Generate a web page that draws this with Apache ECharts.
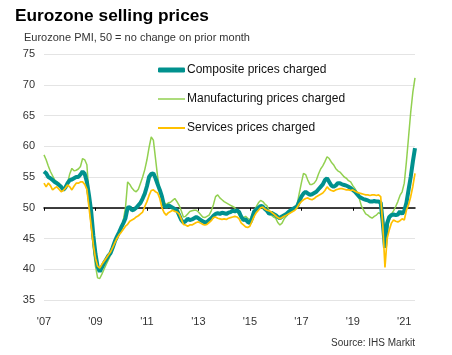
<!DOCTYPE html>
<html>
<head>
<meta charset="utf-8">
<script src="https://cdn.jsdelivr.net/npm/echarts@6/dist/echarts.min.js"></script>
<style>
html,body{margin:0;padding:0;background:#fff;}
#chart{width:452px;height:355px;}
</style>
</head>
<body>
<div id="chart"></div>
<script>
// Monthly, Jan 2007 – Jun 2021
var startYear = 2007;
var monthCount = 174;
var categories = [];
for (var i = 0; i < monthCount; i++) {
  var y = startYear + Math.floor(i / 12), m = (i % 12) + 1;
  categories.push(y + '-' + (m < 10 ? '0' + m : m));
}
var tickLabels = ["'07", "'09", "'11", "'13", "'15", "'17", "'19", "'21"];
var seriesNames = ['Composite prices charged', 'Manufacturing prices charged', 'Services prices charged'];

var composite = [
  55.9,55.6,55.0,54.8,54.5,54.2,54.0,53.7,53.4,52.9,53.3,54.0,
  54.5,54.6,54.8,55.0,55.0,55.4,55.9,55.5,54.2,52.0,49.4,45.5,
  42.5,40.4,39.6,40.3,41.0,41.6,42.2,42.6,43.5,44.5,45.3,46.0,
  46.8,47.5,48.3,50.0,50.1,49.6,49.7,50.0,50.4,50.8,51.5,52.3,
  53.5,55.0,55.5,55.6,54.8,53.8,52.9,51.8,50.3,50.1,50.4,50.2,
  50.0,49.8,49.6,48.8,48.0,47.6,47.8,48.2,48.0,48.1,48.3,48.5,
  48.3,48.0,47.8,47.6,47.7,48.0,48.3,48.7,49.0,49.1,49.0,49.2,
  49.1,49.0,49.2,49.3,49.5,49.4,49.6,49.3,48.5,48.0,48.1,47.7,
  47.5,48.3,49.4,49.7,50.0,50.3,50.2,49.8,49.5,49.0,49.2,49.0,
  48.8,48.5,48.3,48.6,48.8,49.0,49.3,49.6,49.8,50.0,50.2,51.0,
  51.8,52.3,52.6,52.3,52.1,52.2,52.4,52.6,53.0,53.4,53.8,54.5,
  54.8,54.2,53.6,53.4,53.6,54.0,54.0,53.8,53.7,53.6,53.4,53.2,
  52.9,52.6,52.2,51.8,51.6,51.4,51.3,51.2,51.0,51.0,51.1,51.0,
  51.0,50.8,47.5,43.5,47.5,48.5,48.8,48.9,48.8,48.9,49.4,49.0,
  49.5,50.8,52.9,55.0,57.5,59.7
];
var manufacturing = [
  58.6,57.8,56.8,55.9,55.2,54.5,54.2,54.0,53.5,52.9,53.3,54.0,
  55.5,56.4,56.0,56.1,56.3,56.7,58.0,57.8,57.0,52.0,47.5,43.5,
  40.5,38.6,38.5,39.2,40.0,40.8,41.5,42.3,43.2,44.2,45.0,45.8,
  46.7,48.0,50.0,54.2,53.8,53.2,52.8,52.6,53.0,54.0,55.0,56.2,
  57.8,59.8,61.5,61.0,58.0,55.0,53.0,51.8,50.8,50.5,50.8,50.9,
  51.2,51.5,51.0,50.4,49.5,48.5,48.6,49.0,49.4,49.5,49.6,49.6,
  49.3,48.9,48.5,48.4,48.6,48.8,49.5,50.5,51.8,52.1,51.6,51.3,
  51.0,50.8,50.6,50.4,50.2,50.0,49.3,48.8,48.5,48.4,48.6,48.3,
  48.0,48.8,49.5,50.2,50.8,51.2,51.0,50.6,50.3,49.5,48.8,48.5,
  48.3,47.6,47.2,47.5,48.2,48.6,49.0,49.3,49.6,50.2,50.5,52.3,
  54.0,55.6,55.4,54.5,53.8,53.8,54.0,54.5,55.5,56.3,56.8,57.5,
  58.3,58.0,57.4,57.0,56.4,56.0,55.8,55.4,55.0,54.8,54.4,54.2,
  53.6,53.1,52.5,51.5,50.3,49.6,49.0,48.8,48.5,48.3,48.6,48.8,
  49.2,49.0,47.5,44.8,46.5,48.0,49.0,49.5,50.2,51.0,52.0,52.6,
  54.0,57.5,61.5,65.5,68.8,71.1
];
var services = [
  54.0,53.4,54.0,53.6,52.9,53.2,53.4,53.0,52.6,52.8,53.2,53.7,
  53.4,52.9,53.5,54.0,54.0,54.2,54.2,53.8,53.0,50.0,47.0,44.0,
  41.8,40.5,40.2,40.8,41.3,41.8,42.3,42.8,43.5,44.3,45.0,45.6,
  46.0,46.5,47.0,47.3,47.8,48.0,48.2,48.5,48.7,49.0,49.3,50.2,
  51.0,52.0,52.8,52.9,52.6,52.4,51.5,50.0,49.2,48.8,49.2,49.4,
  49.6,49.4,49.3,49.0,48.2,47.3,47.2,47.0,47.2,47.2,47.4,47.6,
  47.7,47.5,47.3,47.2,47.3,47.6,47.9,48.4,48.5,48.3,48.2,48.1,
  48.2,48.1,48.3,48.4,48.5,48.6,48.5,48.2,47.5,47.2,46.9,46.8,
  47.0,47.8,48.6,49.2,49.6,50.0,50.1,49.8,49.6,49.5,49.3,49.0,
  48.7,48.4,48.2,48.4,48.6,48.8,49.0,49.2,49.4,49.6,50.0,50.6,
  51.0,51.3,51.5,51.6,51.4,51.3,51.5,51.8,52.0,52.2,52.4,52.8,
  53.4,53.0,52.8,52.7,52.9,53.0,53.1,53.1,53.0,52.9,52.9,52.8,
  52.9,52.7,52.5,52.4,52.3,52.2,52.1,52.1,52.0,52.1,52.1,52.0,
  52.1,51.8,47.0,40.3,45.0,46.4,47.5,48.0,47.8,47.7,47.9,48.2,
  48.0,49.6,50.5,51.8,53.5,55.6
];

var FONT = 'Liberation Sans, Arial, sans-serif';
var TEAL = '#00918e', GREEN = '#92d050', GOLD = '#ffc000';
var tickEvery = 24;
function isTick(i) { return i % tickEvery === 0; }
function legendFor(name, top, icon, h) {
  return {
    orient: 'vertical', left: 158, top: top, padding: 0,
    icon: icon, itemWidth: 27, itemHeight: h,
    textStyle: {fontFamily: FONT, fontSize: 12, color: '#111', padding: [0, 0, 0, -3]},
    data: [name]
  };
}

var chart = echarts.init(document.getElementById('chart'), null, {renderer: 'canvas'});
chart.setOption({
  animation: false,
  backgroundColor: '#ffffff',
  title: [
    {text: 'Eurozone selling prices', left: 15, top: 8, padding: 0,
     textStyle: {fontFamily: FONT, fontSize: 17.3, fontWeight: 'bold', color: '#000'}},
    {text: 'Eurozone PMI, 50 = no change on prior month', left: 24, top: 32, padding: 0,
     textStyle: {fontFamily: FONT, fontSize: 11, fontWeight: 'normal', color: '#333'}},
    {text: 'Source: IHS Markit', right: 37, top: 338, padding: 0,
     textStyle: {fontFamily: FONT, fontSize: 10, fontWeight: 'normal', color: '#333'}}
  ],
  legend: [
    legendFor(seriesNames[0], 64, 'roundRect', 5),
    legendFor(seriesNames[1], 93, 'rect', 1.5),
    legendFor(seriesNames[2], 122, 'rect', 2)
  ],
  grid: {left: 44, right: 37, top: 54, bottom: 55},
  xAxis: [
    {
      type: 'category', data: categories, boundaryGap: false,
      axisLine: {show: false}, axisTick: {show: false},
      axisLabel: {
        interval: function (i) { return isTick(i); },
        formatter: function (v, i) { return tickLabels[i / tickEvery]; },
        fontFamily: FONT, fontSize: 11, color: '#333', margin: 16
      },
      splitLine: {show: false}
    },
    {
      type: 'category', data: categories, boundaryGap: false,
      position: 'bottom', offset: -92.25,
      axisLine: {show: true, lineStyle: {color: '#000', width: 1.5}},
      axisTick: {show: true, length: 3, interval: function (i) { return isTick(i); }, lineStyle: {color: '#000', width: 1}},
      axisLabel: {show: false},
      splitLine: {show: false}
    }
  ],
  yAxis: {
    type: 'value', min: 35, max: 75, interval: 5,
    axisLine: {show: false}, axisTick: {show: false},
    axisLabel: {fontFamily: FONT, fontSize: 11, color: '#333', margin: 9},
    splitLine: {lineStyle: {color: '#e4e4e4', width: 1}}
  },
  series: [
    {name: seriesNames[1], type: 'line', data: manufacturing,
     symbol: 'none', z: 2, color: GREEN, lineStyle: {width: 1.5, color: GREEN}},
    {name: seriesNames[0], type: 'line', data: composite,
     symbol: 'none', z: 3, color: TEAL, lineStyle: {width: 4, color: TEAL}},
    {name: seriesNames[2], type: 'line', data: services,
     symbol: 'none', z: 4, color: GOLD, lineStyle: {width: 1.7, color: GOLD}}
  ]
});
</script>
</body>
</html>
